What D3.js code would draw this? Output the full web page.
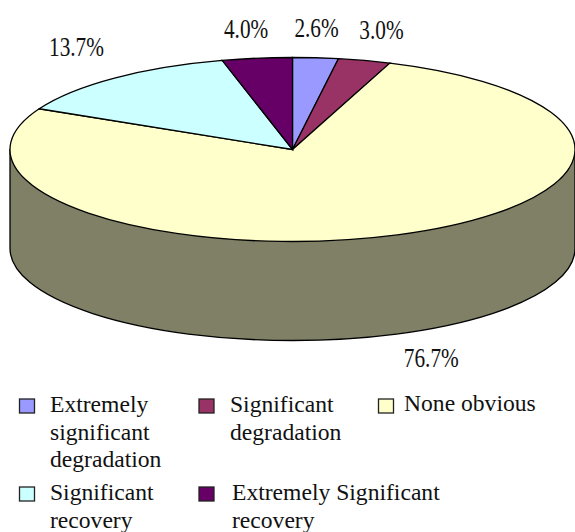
<!DOCTYPE html>
<html>
<head>
<meta charset="utf-8">
<script src="https://cdn.jsdelivr.net/npm/d3@7"></script>
<style>
html,body{margin:0;padding:0;background:#fff}
svg{display:block}
text{font-family:"Liberation Serif",serif;fill:#111}
</style>
</head>
<body>
<svg id="chart" width="575" height="532"></svg>
<script>
// Share of each response class, in percent, clockwise from twelve o'clock
const shares = [2.6, 3.0, 76.7, 13.7, 4.0];
const shareLabels = ["2.6%", "3.0%", "76.7%", "13.7%", "4.0%"];
const sliceColors = ["#9999ff", "#993366", "#ffffcc", "#ccffff", "#660066"];
const legendLines = [
  ["Extremely", "significant", "degradation"],
  ["Significant", "degradation"],
  ["None obvious"],
  ["Significant", "recovery"],
  ["Extremely Significant", "recovery"]
];

const svg = d3.select("#chart");
const cx = 292.5, cy = 149.5, rx = 282.5, ry = 92, depth = 99;
const wallColor = "#808066";

// Cylinder wall below the tilted disc
svg.append("path")
  .attr("d", `M${cx - rx},${cy} V${cy + depth} A${rx},${ry} 0 0 0 ${cx + rx},${cy + depth} V${cy} Z`)
  .attr("fill", wallColor)
  .attr("stroke", "#000")
  .attr("stroke-width", 1.3);

// Disc: a flat pie squashed vertically, with strokes kept at constant width
const pie = d3.pie().sort(null).value(d => d);
const arcs = pie(shares);
const arc = d3.arc().innerRadius(0).outerRadius(rx);
const disc = svg.append("g")
  .attr("transform", `translate(${cx},${cy}) scale(1,${ry / rx})`);
disc.selectAll("path")
  .data(arcs)
  .join("path")
  .attr("d", arc)
  .attr("fill", (d, i) => sliceColors[i])
  .attr("stroke", "#000")
  .attr("stroke-width", 1.3)
  .attr("vector-effect", "non-scaling-stroke");

// Percent labels sit outside the rim at each slice's middle angle
const labelNudge = [[1, -21], [17, -22], [34, 33], [-38, -22], [-11, -20]];
svg.selectAll("text.share")
  .data(arcs)
  .join("text")
  .attr("class", "share")
  .attr("text-anchor", "middle")
  .attr("font-size", 28)
  .attr("transform", (d, i) => {
    const mid = (d.startAngle + d.endAngle) / 2;
    const front = Math.cos(mid) < 0 ? depth : 0;
    const x = cx + rx * Math.sin(mid) + labelNudge[i][0];
    const y = cy - ry * Math.cos(mid) + front + labelNudge[i][1];
    return `translate(${x},${y}) scale(0.76,1)`;
  })
  .text((d, i) => shareLabels[i]);

// Legend: three entries on the first row, two on the second
const legendSlots = [
  {sx: 19.5, sy: 399, tx: 50, ty: 412},
  {sx: 199, sy: 399, tx: 230, ty: 412},
  {sx: 378.5, sy: 399, tx: 404, ty: 411},
  {sx: 19.5, sy: 487, tx: 50, ty: 500},
  {sx: 199, sy: 487, tx: 232, ty: 500}
];
const lineStep = 27.5;
const legend = svg.selectAll("g.entry")
  .data(legendLines)
  .join("g")
  .attr("class", "entry");
legend.append("rect")
  .attr("x", (d, i) => legendSlots[i].sx)
  .attr("y", (d, i) => legendSlots[i].sy)
  .attr("width", 15)
  .attr("height", 14)
  .attr("fill", (d, i) => sliceColors[i])
  .attr("stroke", "#222")
  .attr("stroke-width", 1.3);
legend.each(function(lines, i) {
  d3.select(this).selectAll("text")
    .data(lines)
    .join("text")
    .attr("x", legendSlots[i].tx)
    .attr("y", (l, j) => legendSlots[i].ty + j * lineStep)
    .attr("font-size", 23.6)
    .text(l => l);
});
</script>
</body>
</html>
